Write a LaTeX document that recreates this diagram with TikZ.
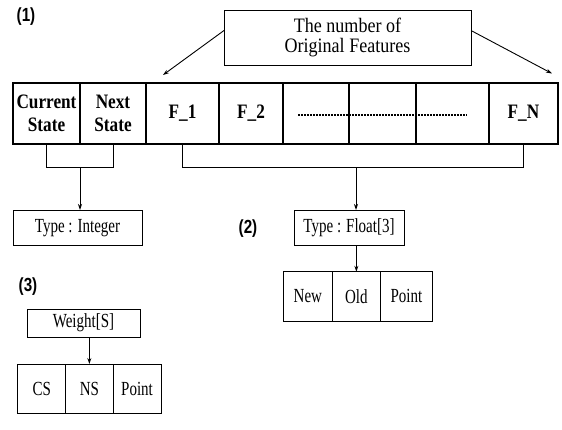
\documentclass[tikz,border=0pt]{standalone}
\usepackage{fontspec}
\setmainfont{Liberation Serif}
\newfontfamily\smallf{Liberation Serif}[FakeStretch=0.75]
\newfontfamily\topf{Liberation Serif}[FakeStretch=0.88]
\newfontfamily\rowf{Liberation Serif}[FakeStretch=0.84]
\newfontfamily\labfont{Liberation Sans}[FakeStretch=0.8]
\usetikzlibrary{arrows.meta}
\tikzset{
  cell/.style={draw, line width=1.3pt, anchor=north west, inner sep=0pt, outer sep=0pt,
    minimum height=61pt, align=center, font=\rowf\fontsize{20.5}{22.5}\selectfont\bfseries},
  sbox/.style={draw, line width=1pt, anchor=north west, inner sep=0pt, outer sep=0pt,
    align=center, font=\smallf\fontsize{20}{22}\selectfont},
  plab/.style={font=\labfont\bfseries\fontsize{19}{21}\selectfont, inner sep=0pt},
  conn/.style={line width=0.9pt},
  arr/.style={line width=0.9pt, -{Stealth[length=6pt,width=4pt]}}
}
\begin{document}
\begin{tikzpicture}[x=1pt,y=-1pt]
\useasboundingbox (0,0) rectangle (562,429);
% labels
\node[plab] (l1) at (26,17) {(1)};
\node[plab] (l2) at (248,229) {(2)};
\node[plab] (l3) at (28,287) {(3)};
% top box
\node[sbox, minimum width=247pt, minimum height=55pt, font=\topf\fontsize{20.5}{20}\selectfont] (top) at (224,10) {The number of\\Original Features};
% row
\node[cell, minimum width=67pt] (c1) at (13,83) {Current\\State};
\node[cell, minimum width=66pt] (c2) at (80,83) {Next\\State};
\node[cell, minimum width=73pt] (c3) at (146,83) {F\_1};
\node[cell, minimum width=64pt] (c4) at (219,83) {F\_2};
\node[cell, minimum width=66pt] (c5) at (283,83) {};
\node[cell, minimum width=67pt] (c6) at (349,83) {};
\node[cell, minimum width=73pt] (c7) at (416,83) {};
\node[cell, minimum width=69pt] (c8) at (489,83) {F\_N};
\draw[line width=1.7pt, dash pattern=on 1.8pt off 1.2pt] ([xshift=15pt,yshift=-1.5pt]c5.west) -- ([xshift=-22pt,yshift=-1.5pt]c7.east);
% arrows from top box
\coordinate (la) at (163,75);
\coordinate (ra) at (552,73.5);
\draw[arr] ([yshift=7pt]top.west) -- (la);
\draw[arr] ([yshift=7pt]top.east) -- (ra);
% brackets
\coordinate (bl) at (80,167);
\coordinate (br) at (356,167);
\draw[conn] (c1.south) -- (c1.south |- bl) -- (c2.south |- bl) -- (c2.south);
\draw[conn] (c3.south) -- (c3.south |- br) -- (c8.south |- br) -- (c8.south);
% type boxes
\node[sbox, minimum width=129pt, minimum height=35.5pt] (ti) at (13,210) {Type : Integer};
\node[sbox, minimum width=110pt, minimum height=35.5pt] (tf) at (294,210) {Type : Float[3]};
\draw[arr] (bl) -- (bl |- ti.north);
\draw[arr] (br) -- (br |- tf.north);
% new old point
\node[sbox, minimum width=49.7pt, minimum height=49.3pt] (nw) at (283,271.7) {New};
\node[sbox, minimum width=47.3pt, minimum height=49.3pt] (od) at (332.7,271.7) {Old};
\node[sbox, minimum width=52.7pt, minimum height=49.3pt] (pt) at (380,271.7) {Point};
\draw[arr] (od.north |- tf.south) -- (od.north);
% weight
\node[sbox, minimum width=113pt, minimum height=28pt] (wt) at (27,309) {Weight[S]};
\node[sbox, minimum width=48pt, minimum height=49pt] (cs) at (17.7,364) {CS};
\node[sbox, minimum width=47.3pt, minimum height=49pt] (ns) at (65.7,364) {NS};
\node[sbox, minimum width=48pt, minimum height=49pt] (wp) at (113,364) {Point};
\draw[arr] (ns.north |- wt.south) -- (ns.north);
\end{tikzpicture}
\end{document}
